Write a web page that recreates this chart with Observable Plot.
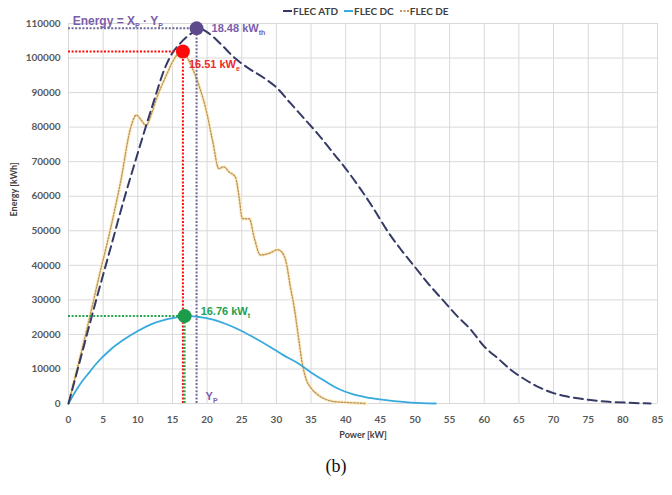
<!DOCTYPE html>
<html>
<head>
<meta charset="utf-8">
<script src="https://cdn.jsdelivr.net/npm/d3@7"></script>
<script src="https://cdn.jsdelivr.net/npm/@observablehq/plot@0.6"></script>
<style>
  body { margin: 0; background: #fff; }
  #wrap { position: relative; width: 672px; }
  #legend {
    position: absolute; left: 283px; top: 5px;
    font: bold 10px Lato, "Liberation Sans", sans-serif; color: #404040;
    white-space: nowrap; display: flex; align-items: center; gap: 6px;
  }
  #legend span.item { display: inline-flex; align-items: center; }
  #legend svg { margin-right: 1px; }
  #cap { width: 672px; text-align: center; font: 18px "Liberation Serif", "Times New Roman", serif; color: #111; margin-top: 11px; line-height: 20px; }
</style>
</head>
<body>
<div id="wrap">
  <div id="legend"></div>
  <div id="chart"></div>
</div>
<div id="cap">(b)</div>
<script>
// Energy delivered at each installed power, three FLEC configurations
const atdPower  = [0, 2, 4, 6, 8, 10, 12, 14, 15, 16, 17, 18, 19, 20, 22, 24, 26, 28, 30, 32, 34, 36, 38, 40, 42, 44, 46, 48, 50, 52, 54, 56, 58, 60, 62, 64, 66, 68, 70, 72, 75, 78, 81, 84];
const atdEnergy = [0, 15000, 30000, 44500, 59000, 72500, 85500, 97500, 101500, 104000, 106000, 107500, 108500, 107500, 104000, 100000, 97000, 94500, 91500, 87000, 82500, 78000, 73000, 68000, 62500, 56500, 50000, 44500, 39500, 34500, 30000, 25500, 21500, 16500, 13000, 9500, 6800, 4600, 3000, 2000, 1100, 500, 200, 0];

const dcPower  = [0, 1, 2, 3, 4, 6, 8, 10, 12, 14, 16, 17.5, 19, 21, 23, 25, 27, 29, 31, 33, 35, 37, 39, 41, 43, 45, 47, 49, 51, 53];
const dcEnergy = [0, 3500, 6500, 9000, 11500, 15500, 18500, 21000, 23000, 24300, 25000, 25300, 25000, 24200, 22800, 21000, 18800, 16500, 14000, 11800, 9000, 6500, 4200, 2700, 1800, 1200, 700, 350, 100, 0];

const dePower  = [0, 1.5, 3, 4.5, 6, 7.5, 9, 9.8, 10.5, 11.2, 12, 12.6, 14, 15.5, 16.3, 17, 18, 19, 19.8, 20.8, 21.7, 22.4, 23.2, 24.1, 24.6, 25.1, 26.1, 26.8, 27.7, 29, 30.2, 30.8, 31.4, 32, 32.6, 33.2, 33.7, 34.3, 35, 36, 37, 38.5, 40, 43];
const deEnergy = [0, 12000, 24500, 37500, 50000, 64000, 80000, 83500, 82000, 80500, 84000, 87700, 94500, 100500, 102000, 100500, 96500, 91000, 85500, 76000, 68000, 68500, 67000, 65500, 60000, 53500, 53500, 48000, 43000, 43500, 44500, 43800, 41000, 34000, 27500, 19000, 12000, 7000, 4500, 2500, 1300, 500, 300, 0];

// Rated points: thermal, electric and total
const markerPower  = [18.48, 16.51, 16.76];
const markerEnergy = [108600, 101900, 25300];
const markerLabels = ["18.48 kW_th", "16.51 kW_e", "16.76 kW_t"];

const seriesNames = ["FLEC ATD", "FLEC DC", "FLEC DE"];
const xTicks = d3.range(0, 86, 5);
const yTicks = d3.range(0, 110001, 10000);

const C = {
  atd: "#353b66", dc: "#36a9dd", de: "#c0965a", deHalo: "#fdf0cc",
  grid: "#d9d9d9",
  purpleDot: "#5c4a8c", purpleText: "#7a5eac", purpleRule: "#6d6a98",
  red: "#ff0a0a", redText: "#ee2a2a",
  greenDot: "#1c9b4a", greenText: "#23a150", greenRule: "#2aa54f"
};
const markerDot  = [C.purpleDot, C.red, C.greenDot];
const markerRule = [C.purpleRule, C.red, C.greenRule];
const markerText = [C.purpleText, C.redText, C.greenText];
const labelDx = [15, 6, 16];
const labelDy = [0, 13, -5];

const toRows = (xs, ys) => xs.map((x, i) => ({x, y: ys[i]}));
const atd = toRows(atdPower, atdEnergy);
const dc = toRows(dcPower, dcEnergy);
const de = toRows(dePower, deEnergy);
const markers = markerPower.map((p, i) => ({
  p, e: markerEnergy[i], label: markerLabels[i],
  dot: markerDot[i], rule: markerRule[i], text: markerText[i], dx: labelDx[i], dy: labelDy[i]
}));

const annFont = "'Liberation Sans', Arial, sans-serif";
const dotted = "2,1.6";

const marks = [
  Plot.ruleX(xTicks, {stroke: C.grid, strokeWidth: 1}),
  Plot.ruleY(yTicks, {stroke: C.grid, strokeWidth: 1}),
  // FLEC DE: fine dotted line on a pale halo
  Plot.line(de, {x: "x", y: "y", stroke: C.deHalo, strokeWidth: 3.5, curve: "monotone-x"}),
  Plot.line(de, {x: "x", y: "y", stroke: C.de, strokeWidth: 1.4, strokeDasharray: "1.6,1.6", curve: "monotone-x"}),
  Plot.line(dc, {x: "x", y: "y", stroke: C.dc, strokeWidth: 1.8, curve: "monotone-x"}),
  Plot.line(atd, {x: "x", y: "y", stroke: C.atd, strokeWidth: 2, strokeDasharray: "9,5", curve: "monotone-x"})
];

// Dotted guides from each rated point to both axes
markers.forEach(m => {
  marks.push(
    Plot.ruleY([m], {y: "e", x1: 0, x2: "p", stroke: m.rule, strokeWidth: 2, strokeDasharray: dotted}),
    Plot.ruleX([m], {x: "p", y1: 0, y2: "e", stroke: m.rule, strokeWidth: 2, strokeDasharray: dotted})
  );
});
markers.forEach(m => {
  marks.push(
    Plot.dot([m], {x: "p", y: "e", r: 7, fill: m.dot, stroke: "none"}),
    Plot.text([m], {x: "p", y: "e", text: "label", dx: m.dx, dy: m.dy, textAnchor: "start",
      fill: m.text, fontSize: 11, fontWeight: "bold", fontFamily: annFont})
  );
});

marks.push(
  Plot.text(["Energy = X_P · Y_P"], {x: 0.6, y: 110000, text: d => d, dy: -2, textAnchor: "start",
    fill: C.purpleText, fontSize: 12, fontWeight: "bold", fontFamily: annFont}),
  Plot.text(["Y_P"], {x: markerPower[0], y: 0, text: d => d, dx: 9, dy: -7, textAnchor: "start",
    fill: C.purpleText, fontSize: 11, fontWeight: "bold", fontFamily: annFont}),
  Plot.text(["Power [kW]"], {frameAnchor: "bottom", text: d => d, dy: 34,
    fill: "#404040", fontSize: 9, fontWeight: "bold"}),
  Plot.text(["Energy [kWh]"], {frameAnchor: "left", text: d => d, dx: -54, dy: 3, rotate: -90,
    fill: "#404040", fontSize: 9, fontWeight: "bold"})
);

const chart = Plot.plot({
  width: 672,
  height: 445,
  marginLeft: 68,
  marginRight: 15,
  marginTop: 23,
  marginBottom: 42,
  style: {fontFamily: "Lato, 'Liberation Sans', sans-serif", fontSize: "10px", fontWeight: "bold", color: "#595959", background: "#fff"},
  x: {domain: [0, 85], ticks: xTicks, tickSize: 0, tickPadding: 12, label: null, tickFormat: d => String(d)},
  y: {domain: [0, 110000], ticks: yTicks, tickSize: 0, tickPadding: 8, label: null, tickFormat: d => String(d)},
  marks
});

// Render "_xx" in annotation text as subscripts
chart.querySelectorAll("text").forEach(t => {
  const s = t.textContent;
  if (!s.includes("_") || t.children.length) return;
  const parts = s.split(/_(\w+)/);
  t.textContent = "";
  let shifted = false;
  parts.forEach((p, i) => {
    if (!p) return;
    const ts = document.createElementNS("http://www.w3.org/2000/svg", "tspan");
    ts.textContent = p;
    if (i % 2) {
      ts.setAttribute("font-size", "7");
      ts.setAttribute("dy", "3");
      shifted = true;
    } else if (shifted) {
      ts.setAttribute("dy", "-3");
      shifted = false;
    }
    t.appendChild(ts);
  });
});

document.getElementById("chart").appendChild(chart);

// Legend above the plot
const swatches = [
  {color: C.atd, dash: null},
  {color: C.dc, dash: null},
  {color: C.de, dash: "2,1.5"}
];
const legend = document.getElementById("legend");
seriesNames.forEach((name, i) => {
  const item = document.createElement("span");
  item.className = "item";
  const sw = swatches[i];
  item.innerHTML = `<svg width="9" height="6"><line x1="0" x2="9" y1="3" y2="3" stroke="${sw.color}" stroke-width="2" ${sw.dash ? `stroke-dasharray="${sw.dash}"` : ""}/></svg>`;
  item.appendChild(document.createTextNode(name));
  legend.appendChild(item);
});
</script>
</body>
</html>
